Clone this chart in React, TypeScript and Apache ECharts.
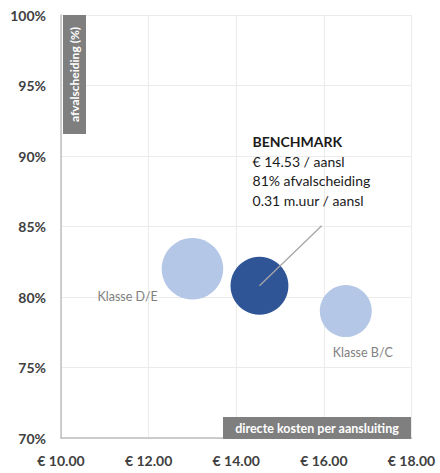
import React, { useEffect, useRef } from "react";
import * as echarts from "echarts";

const names = ["Klasse D/E", "BENCHMARK", "Klasse B/C"];
const costs = [13.0, 14.53, 16.5];
const separation = [82.0, 80.8, 79.0];
const hours = [0.35, 0.31, 0.25];
const leaderEnd = [15.95, 85.05];
const xTicks = { min: 10, max: 18, interval: 2 };
const yTicks = { min: 70, max: 100, interval: 5 };
const benchmarkLines = ["€ 14.53 / aansl", "81% afvalscheiding", "0.31 m.uur / aansl"];

const FONT = "Lato, 'Open Sans', sans-serif";
const K = 104;

export default function App() {
  const ref = useRef<HTMLDivElement>(null);
  useEffect(() => {
    if (!ref.current) return;
    const chart = echarts.init(ref.current, null, { renderer: "svg" });
    const light = "#B4C7E7";
    const dark = "#2F5597";
    const labelPos: Record<string, number[]> = {
      "Klasse D/E": [-34, 58],
      "Klasse B/C": [43, 67],
      BENCHMARK: [22, -125],
    };
    const data = names.map((n, i) => {
      const isBench = n === "BENCHMARK";
      return {
        name: n,
        value: [costs[i], separation[i], hours[i]],
        itemStyle: { color: isBench ? dark : light, opacity: 1 },
        label: isBench
          ? {
              show: true,
              position: labelPos[n],
              align: "left",
              verticalAlign: "top",
              formatter: () => "{b|BENCHMARK}\n" + benchmarkLines.map((l) => "{t|" + l + "}").join("\n"),
              rich: {
                b: { fontFamily: FONT, fontSize: 14, fontWeight: "bold", color: "#1a1a1a", lineHeight: 19.5 },
                t: { fontFamily: FONT, fontSize: 14, color: "#1a1a1a", lineHeight: 19.5 },
              },
            }
          : {
              show: true,
              position: labelPos[n],
              align: "center",
              verticalAlign: "middle",
              formatter: "{b}",
              fontFamily: FONT,
              fontSize: 12.5,
              color: "#808080",
            },
      };
    });
    chart.setOption({
      animation: false,
      grid: { left: 61, top: 15, right: 28.5, bottom: 35 },
      xAxis: {
        type: "value",
        min: xTicks.min,
        max: xTicks.max,
        interval: xTicks.interval,
        axisLine: { show: true, lineStyle: { color: "#BFBFBF", width: 1.5 } },
        axisTick: { show: false },
        splitLine: { show: true, lineStyle: { color: "#EBEBEB", width: 1 } },
        axisLabel: {
          formatter: (v: number) => "€ " + v.toFixed(2),
          fontFamily: FONT,
          fontSize: 14,
          fontWeight: "bold",
          color: "#404040",
          margin: 15,
        },
      },
      yAxis: {
        type: "value",
        min: yTicks.min,
        max: yTicks.max,
        interval: yTicks.interval,
        axisLine: { show: true, lineStyle: { color: "#BFBFBF", width: 1.5 } },
        axisTick: { show: false },
        splitLine: { show: true, lineStyle: { color: "#EBEBEB", width: 1 } },
        axisLabel: {
          formatter: (v: number) => v + "%",
          fontFamily: FONT,
          fontSize: 14,
          fontWeight: "bold",
          color: "#404040",
          margin: 15,
        },
      },
      series: [
        {
          type: "scatter",
          symbol: "circle",
          symbolSize: (v: number[]) => K * Math.sqrt(v[2]),
          data,
          z: 2,
        },
        {
          type: "line",
          data: [[costs[1], separation[1]], leaderEnd],
          symbol: "none",
          lineStyle: { color: "#A6A6A6", width: 1.3 },
          z: 3,
          silent: true,
        },
      ],
      graphic: [
        { type: "rect", shape: { x: 63, y: 15, width: 23, height: 119 }, style: { fill: "#7F7F7F" }, z: 10 },
        {
          type: "text",
          x: 74.5,
          y: 74.5,
          rotation: Math.PI / 2,
          style: {
            text: "afvalscheiding (%)",
            fill: "#fff",
            font: "bold 12px " + FONT,
            align: "center",
            verticalAlign: "middle",
          },
          z: 11,
        },
        { type: "rect", shape: { x: 223, y: 417, width: 188, height: 22 }, style: { fill: "#7F7F7F" }, z: 10 },
        {
          type: "text",
          x: 317,
          y: 428.5,
          style: {
            text: "directe kosten per aansluiting",
            fill: "#fff",
            font: "bold 12.5px " + FONT,
            align: "center",
            verticalAlign: "middle",
          },
          z: 11,
        },
      ],
    });
    return () => chart.dispose();
  }, []);
  return <div ref={ref} style={{ position: "absolute", left: 0, top: 0, width: 440, height: 473 }} />;
}
